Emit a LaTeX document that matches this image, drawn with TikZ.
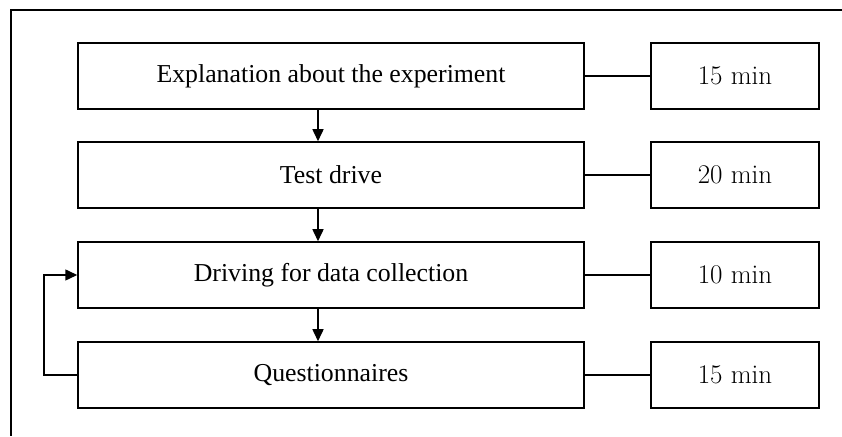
\documentclass[tikz,border=0pt]{standalone}
\usepackage{fontspec}
\setmainfont{Liberation Serif}
\newfontfamily\timefont{Latin Modern Roman}
\usetikzlibrary{arrows.meta}
\begin{document}
\begin{tikzpicture}[x=1pt,y=1pt,
  line width=1.5pt,
  stagebox/.style={draw, minimum width=506pt, minimum height=66pt, inner sep=0pt, font=\fontsize{25.8}{30}\selectfont},
  timebox/.style={draw, minimum width=168pt, minimum height=66pt, inner sep=0pt, font=\timefont\fontsize{27}{31}\selectfont},
  flow/.style={-{Triangle[length=12pt,width=11pt]}, line width=1.5pt},
  link/.style={line width=1.5pt}]
  \useasboundingbox (0,0) rectangle (842,436);
  % open frame: top and left edges only
  \draw (842,426) -- (11,426) -- (11,0);
  % stages
  \node[stagebox] (s1) at (331,360) {Explanation about the experiment};
  \node[stagebox] (s2) at (331,261) {Test drive};
  \node[stagebox] (s3) at (331,161) {Driving for data collection};
  \node[stagebox] (s4) at (331,61) {Questionnaires};
  % durations
  \node[timebox] (t1) at (735,360) {15 min};
  \node[timebox] (t2) at (735,261) {20 min};
  \node[timebox] (t3) at (735,161) {10 min};
  \node[timebox] (t4) at (735,61) {15 min};
  % links to durations
  \foreach \i in {1,2,3,4} \draw[link] (s\i) -- (t\i);
  % sequence arrows
  \draw[flow] ([xshift=-13pt]s1.south) -- ([xshift=-13pt]s2.north);
  \draw[flow] ([xshift=-13pt]s2.south) -- ([xshift=-13pt]s3.north);
  \draw[flow] ([xshift=-13pt]s3.south) -- ([xshift=-13pt]s4.north);
  % loop back
  \coordinate (lb) at (44,0);
  \draw[flow] (s4.west) -| (lb |- s3.west) -- (s3.west);
\end{tikzpicture}
\end{document}
